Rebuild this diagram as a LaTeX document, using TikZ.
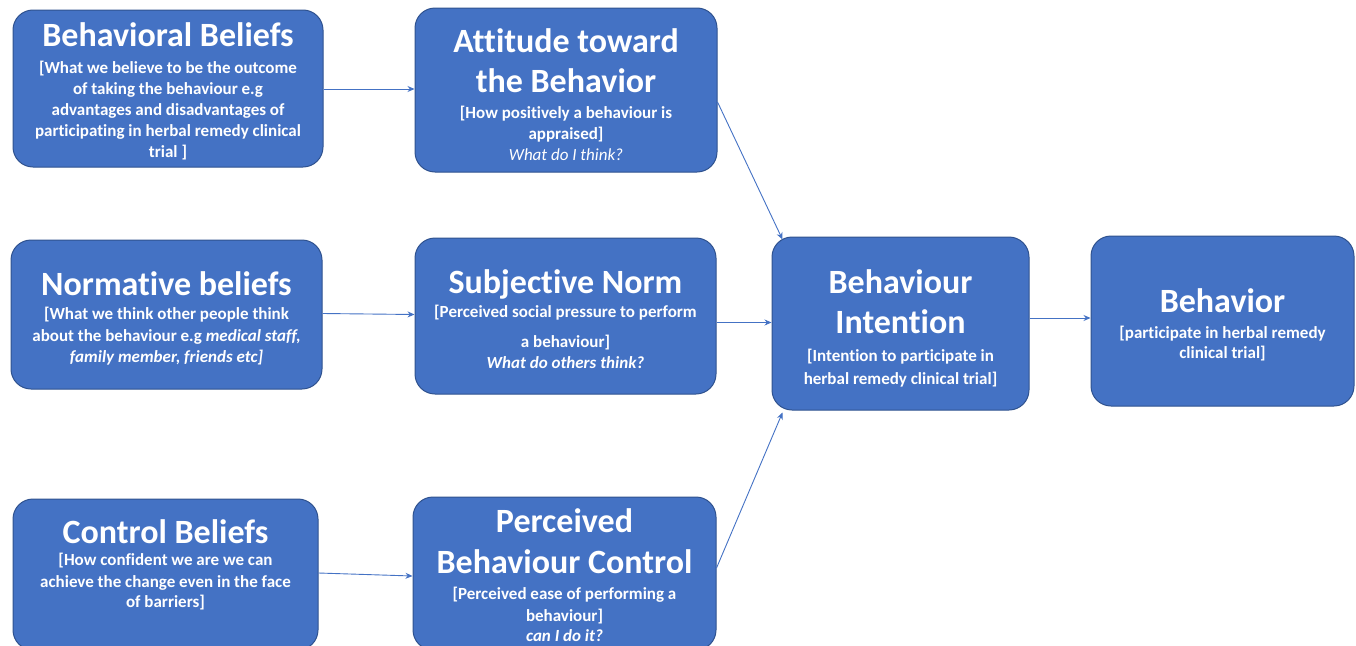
\documentclass[tikz,border=0pt]{standalone}
\usepackage{fontspec}
\setmainfont{Carlito}[Ligatures=CommonOff]
\usetikzlibrary{arrows.meta,calc}
\definecolor{boxfill}{HTML}{4472C4}
\definecolor{boxline}{HTML}{2F528F}
\definecolor{arrowc}{HTML}{4472C4}
\newcommand{\ttl}{\fontsize{34}{40}\selectfont\bfseries}
\newcommand{\bdy}{\fontsize{17}{21}\selectfont\bfseries}
\newcommand{\tp}[1]{\rule{0pt}{#1}}
\newcommand{\bt}[1]{\rule[-#1]{0pt}{0pt}\par}
\begin{document}
\begin{tikzpicture}[x=1pt,y=-1pt,
  tbox/.style={draw=boxline, line width=1pt, fill=boxfill, rounded corners=20pt,
    text=white, align=flush center, inner sep=0pt, text width=300pt},
  conn/.style={draw=arrowc, line width=0.9pt, -{Stealth[length=7pt,width=6pt]}}]
\useasboundingbox (0,0) rectangle (1356,645);
\begin{scope}
\clip (0,0) rectangle (1356,645);
\node[tbox, minimum width=310pt, minimum height=157pt] (bb) at (168,88.5)
 {\ttl\tp{32pt}Behavioral Beliefs\\[6pt]
  \bdy [What we believe to be the outcome\\ of taking the behaviour e.g\\ advantages and disadvantages of\\ participating in herbal remedy clinical\\ trial ]\bt{6pt}};
\node[tbox, minimum width=302pt, minimum height=164pt] (att) at (566,90)
 {\ttl\tp{37pt}Attitude toward\\ the Behavior\\[5pt]
  \bdy [How positively a behaviour is\\ appraised]\\ \mdseries\itshape What do I think?\bt{5pt}};
\node[tbox, minimum width=311pt, minimum height=149pt] (nb) at (166.5,314.5)
 {\ttl\tp{34pt}Normative beliefs\\[3pt]
  \bdy [What we think other people think\\[1pt] about the behaviour e.g \itshape medical staff,\\ family member, friends etc]\bt{6pt}};
\node[tbox, minimum width=301pt, minimum height=156pt] (sn) at (565.5,316)
 {\ttl\tp{34pt}Subjective Norm\\[3pt]
  \bdy [Perceived social pressure to perform\\[9pt] a behaviour]\\ \itshape What do others think?\bt{5pt}};
\node[tbox, minimum width=305pt, minimum height=151pt] (cb) at (165.5,574.5)
 {\ttl\tp{28pt}Control Beliefs\\[1pt]
  \bdy [How confident we are we can\\[1pt] achieve the change even in the face\\[-1pt] of barriers]\bt{27pt}};
\node[tbox, minimum width=303pt, minimum height=153pt] (pbc) at (564.5,573.5)
 {\ttl\tp{33pt}Perceived\\[1pt] Behaviour Control\\[5pt]
  \bdy [Perceived ease of performing a\\[1pt] behaviour]\\[-1pt] \itshape can I do it?\bt{7pt}};
\node[tbox, text width=250pt, minimum width=257pt, minimum height=173pt] (bi) at (900.5,323.5)
 {\ttl\tp{36pt}Behaviour\\ Intention\\[7pt]
  \bdy [Intention to participate in\\[2pt] herbal remedy clinical trial]\bt{6pt}};
\node[tbox, text width=255pt, minimum width=263pt, minimum height=170pt] (bh) at (1222.5,321)
 {\ttl\tp{35pt}Behavior\\[5pt]
  \bdy [participate in herbal remedy\\[-1pt] clinical trial]\bt{7pt}};
\end{scope}
\draw[conn] ([yshift=-0.5pt]bb.east) -- ([yshift=-0.5pt]bb.east -| att.west);
\draw[conn] ([yshift=1pt]nb.east) -- ([yshift=0pt]nb.east -| sn.west);
\draw[conn] ([yshift=1.5pt]cb.east) -- ([yshift=-1.5pt]cb.east -| pbc.west);
\draw[conn] ([yshift=-12pt]att.east) -- ([xshift=11pt,yshift=-3pt]bi.north west);
\draw[conn] ([yshift=-6.5pt]sn.east) -- ([yshift=-6.5pt]sn.east -| bi.west);
\draw[conn] ([yshift=5.5pt]pbc.east) -- ([xshift=11pt,yshift=-2pt]bi.south west);
\draw[conn] ([yshift=5.5pt]bi.east) -- ([yshift=5.5pt]bi.east -| bh.west);
\end{tikzpicture}
\end{document}
